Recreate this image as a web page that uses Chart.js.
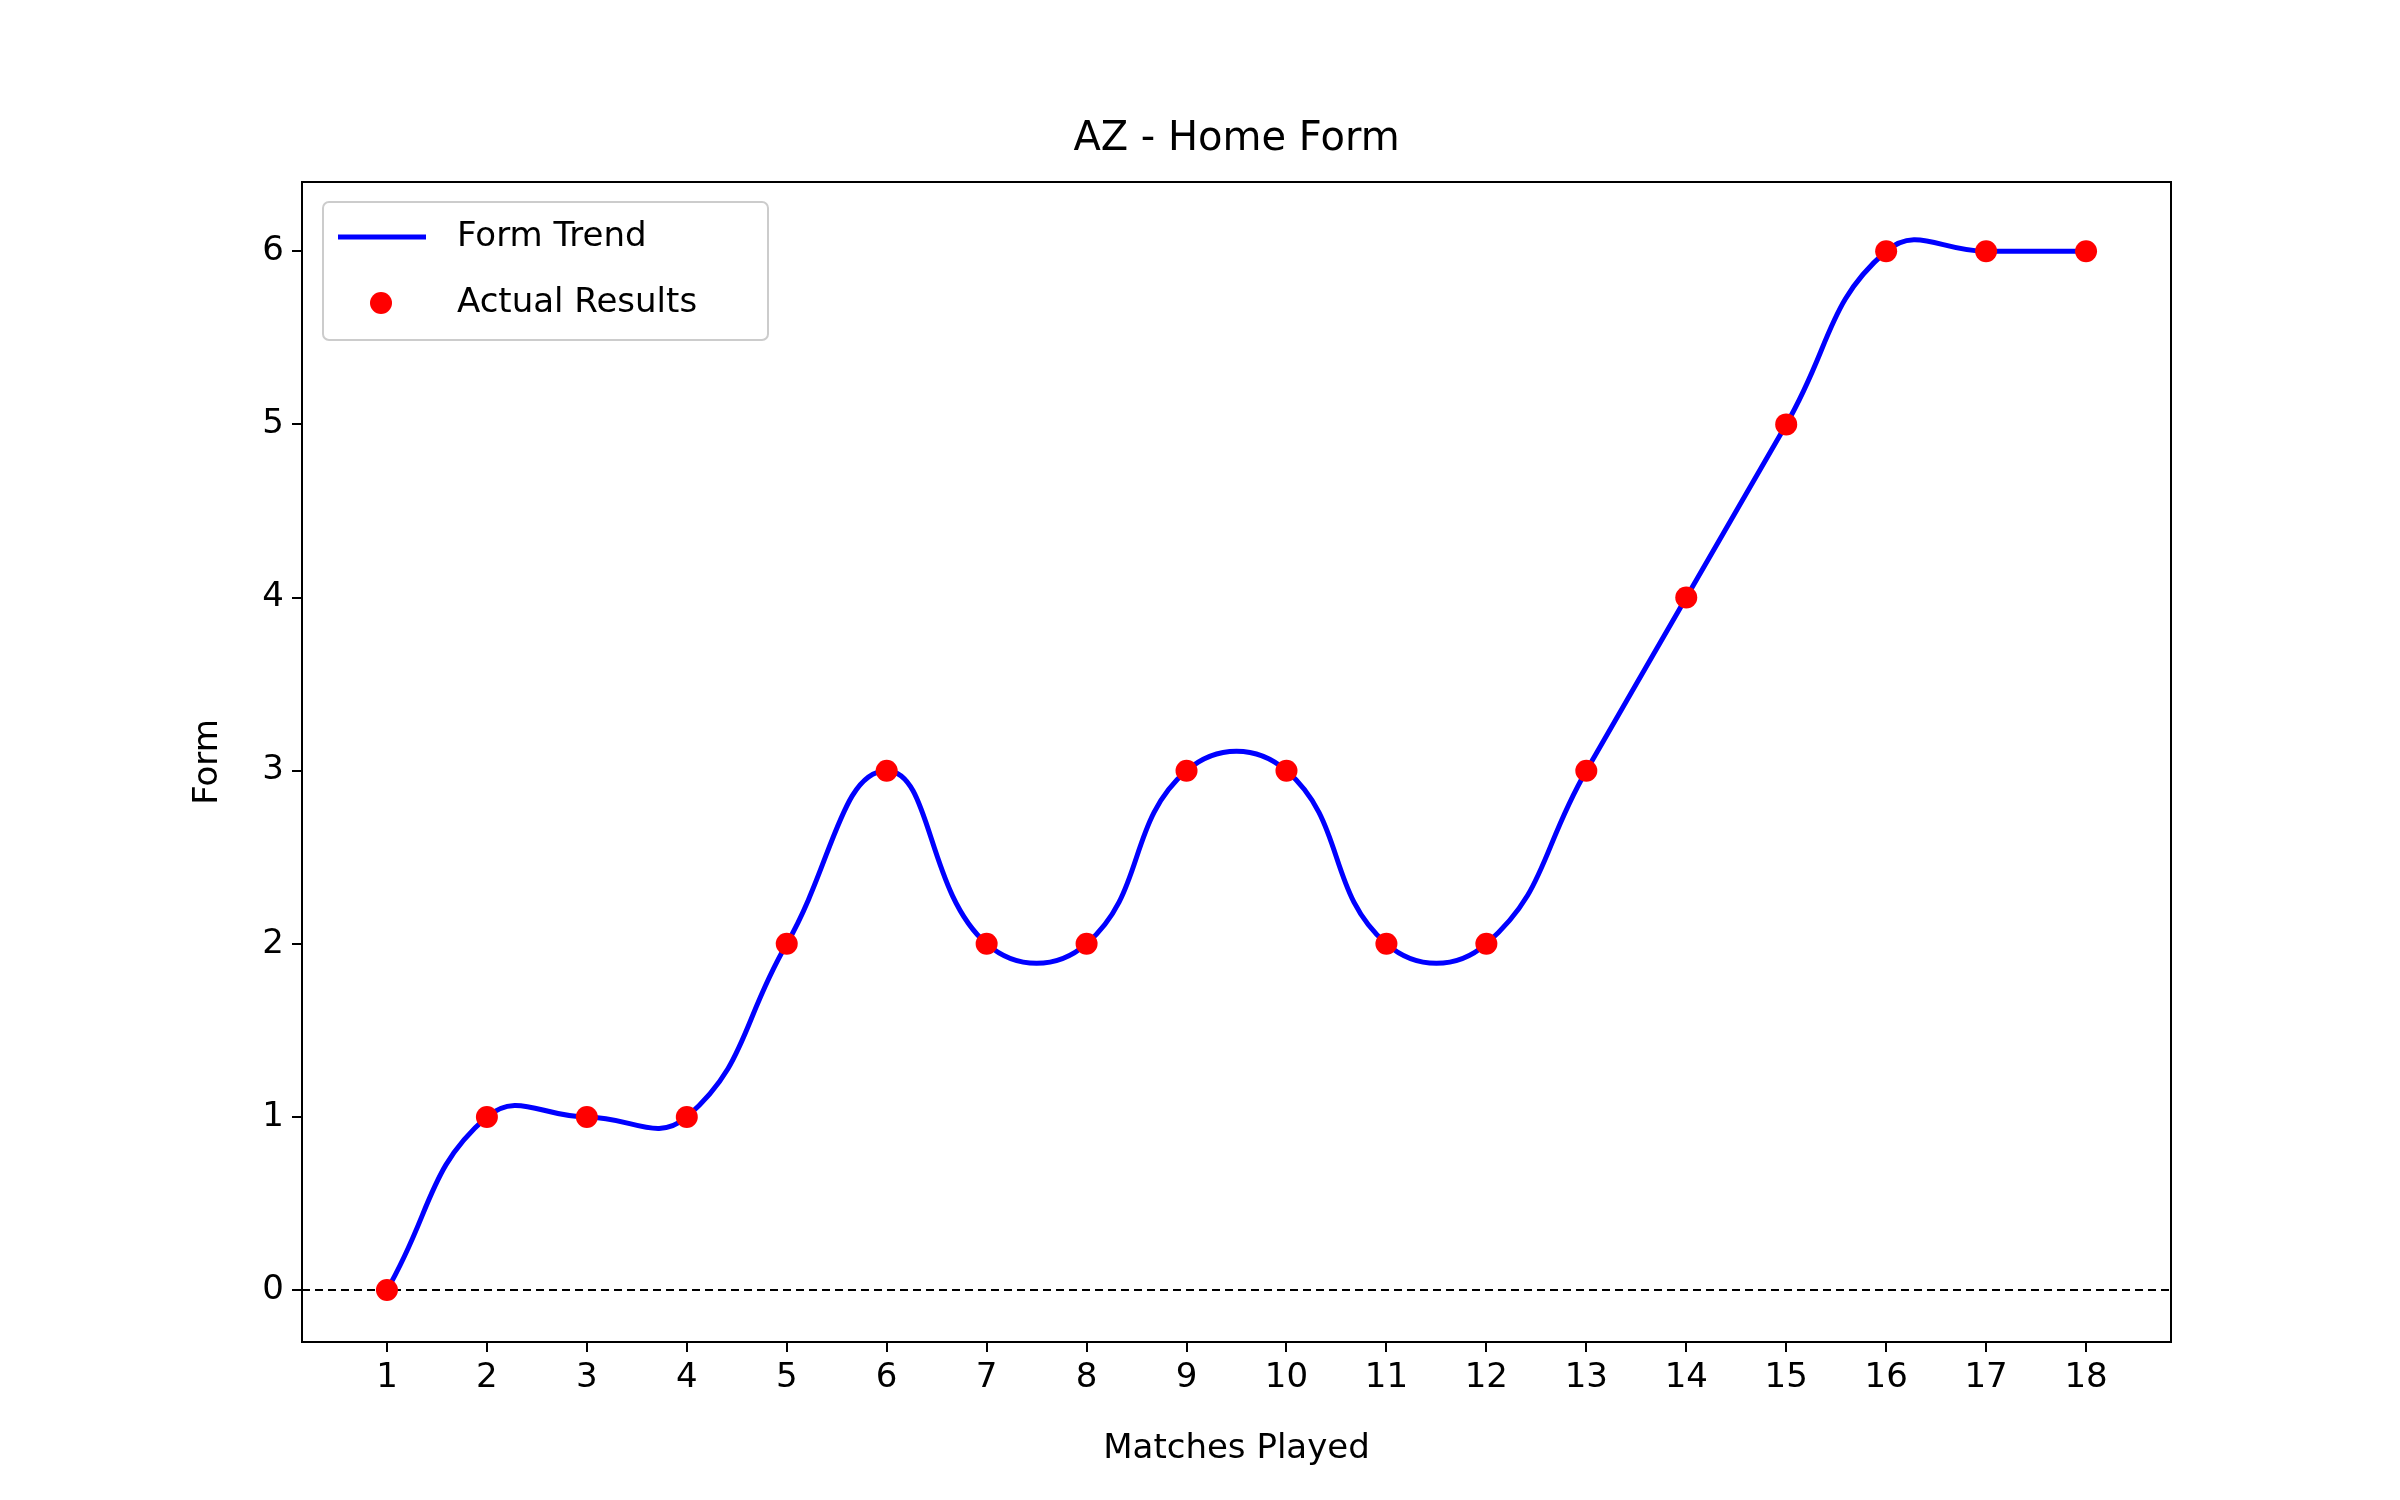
<!DOCTYPE html>
<html>
<head>
<meta charset="utf-8">
<script src="https://cdn.jsdelivr.net/npm/chart.js@4.4.1/dist/chart.umd.min.js"></script>
<style>
  html, body { margin: 0; padding: 0; background: #fff; }
  #wrap { width: 2400px; height: 1500px; }
</style>
</head>
<body>
<div id="wrap"><canvas id="chart" width="2400" height="1500"></canvas></div>
<script>
// --- Data ---
const matches = [1, 2, 3, 4, 5, 6, 7, 8, 9, 10, 11, 12, 13, 14, 15, 16, 17, 18];
const formValues = [0, 1, 1, 1, 2, 3, 2, 2, 3, 3, 2, 2, 3, 4, 5, 6, 6, 6];
const yTicks = [0, 1, 2, 3, 4, 5, 6];

const FONT = "'DejaVu Sans', sans-serif";
const points = matches.map((m, i) => ({ x: m, y: formValues[i] }));

// frame, zero line, titles and legend drawn like matplotlib
const extras = {
    id: 'extras',
    beforeDatasetsDraw(chart) {
        const { ctx, chartArea: a, scales } = chart;
        const y0 = scales.y.getPixelForValue(0);
        ctx.save();
        ctx.strokeStyle = '#000';
        ctx.lineWidth = 2;
        ctx.setLineDash([8, 5]);
        ctx.beginPath();
        ctx.moveTo(a.left, y0);
        ctx.lineTo(a.right, y0);
        ctx.stroke();
        ctx.restore();
    },
    afterDraw(chart) {
        const { ctx, chartArea: a } = chart;
        ctx.save();
        ctx.strokeStyle = '#000';
        ctx.lineWidth = 2;
        ctx.strokeRect(a.left, a.top, a.right - a.left, a.bottom - a.top);

        ctx.fillStyle = '#000';
        ctx.textAlign = 'center';
        ctx.textBaseline = 'middle';
        ctx.font = '40px ' + FONT;
        ctx.fillText('AZ - Home Form', (a.left + a.right) / 2, 140);
        ctx.font = '34px ' + FONT;
        ctx.fillText('Matches Played', (a.left + a.right) / 2, 1449);
        ctx.translate(208, (a.top + a.bottom) / 2);
        ctx.rotate(-Math.PI / 2);
        ctx.fillText('Form', 0, 0);
        ctx.restore();

        // legend
        ctx.save();
        ctx.fillStyle = 'rgba(255,255,255,0.85)';
        ctx.strokeStyle = '#ccc';
        ctx.lineWidth = 2;
        ctx.beginPath();
        ctx.roundRect(323, 202, 445, 138, 6);
        ctx.fill();
        ctx.stroke();
        ctx.strokeStyle = '#0000ff';
        ctx.lineWidth = 5;
        ctx.beginPath();
        ctx.moveTo(338, 237);
        ctx.lineTo(426, 237);
        ctx.stroke();
        ctx.fillStyle = '#ff0000';
        ctx.beginPath();
        ctx.arc(381, 303, 11, 0, Math.PI * 2);
        ctx.fill();
        ctx.fillStyle = '#000';
        ctx.font = '34px ' + FONT;
        ctx.textBaseline = 'middle';
        ctx.fillText('Form Trend', 457, 237);
        ctx.fillText('Actual Results', 457, 303);
        ctx.restore();
    }
};

new Chart(document.getElementById('chart'), {
    type: 'scatter',
    data: {
        datasets: [
            {
                label: 'Actual Results',
                data: points,
                backgroundColor: '#ff0000',
                borderWidth: 0,
                pointRadius: 11,
                order: 1
            },
            {
                label: 'Form Trend',
                type: 'line',
                data: points,
                borderColor: '#0000ff',
                borderWidth: 5,
                pointRadius: 0,
                tension: 0.45,
                fill: false,
                order: 2
            }
        ]
    },
    options: {
        responsive: false,
        animation: false,
        devicePixelRatio: 1,
        layout: { padding: { top: 182, right: 229, left: 0, bottom: 0 } },
        plugins: { legend: { display: false }, title: { display: false }, tooltip: { enabled: false } },
        scales: {
            x: {
                type: 'linear',
                min: 0.15,
                max: 18.85,
                afterFit: s => { s.height = 158; },
                afterBuildTicks: s => { s.ticks = matches.map(v => ({ value: v })); },
                grid: { drawOnChartArea: false, color: '#000', tickLength: 10, lineWidth: 2 },
                border: { color: '#000', width: 2 },
                ticks: { color: '#000', font: { family: FONT, size: 34 }, padding: 6, maxRotation: 0, autoSkip: false }
            },
            y: {
                type: 'linear',
                min: -0.3,
                max: 6.4,
                afterFit: s => { s.width = 302; },
                afterBuildTicks: s => { s.ticks = yTicks.map(v => ({ value: v })); },
                grid: { drawOnChartArea: false, color: '#000', tickLength: 10, lineWidth: 2 },
                border: { color: '#000', width: 2 },
                ticks: { color: '#000', font: { family: FONT, size: 34 }, padding: 8 }
            }
        }
    },
    plugins: [extras]
});
</script>
</body>
</html>
